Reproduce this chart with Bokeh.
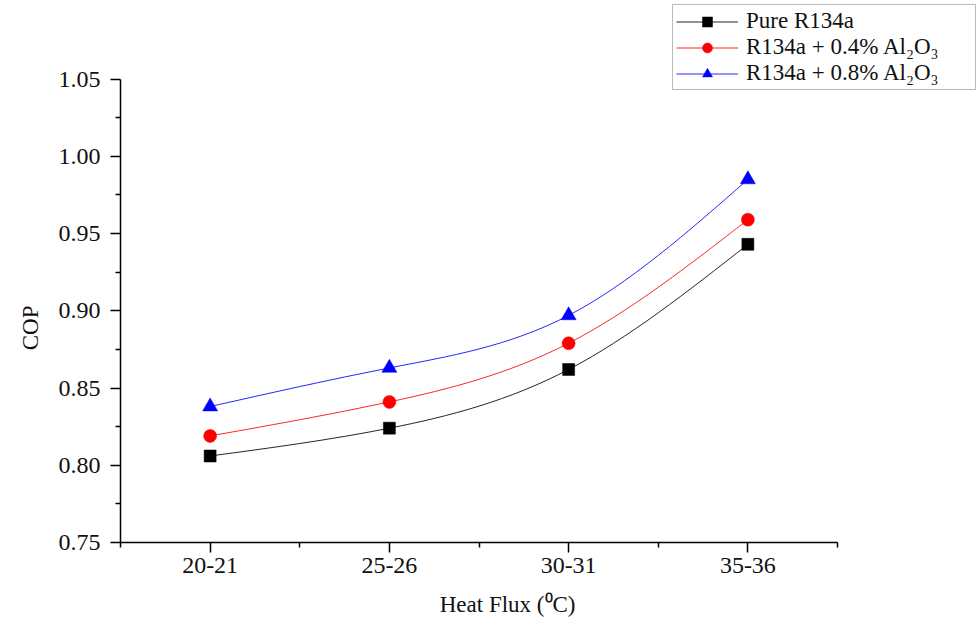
import numpy as np
from bokeh.plotting import figure
from bokeh.models import (FixedTicker, NumeralTickFormatter, Legend, LegendItem, Range1d, Title)
from bokeh.embed import file_html
from bokeh.resources import INLINE

# ---- data ----
categories = ["20-21", "25-26", "30-31", "35-36"]
x_pos = [1, 2, 3, 4]
pure_r134a = [0.806, 0.824, 0.862, 0.943]
al2o3_04 = [0.819, 0.841, 0.879, 0.959]
al2o3_08 = [0.838, 0.863, 0.897, 0.985]

y_ticks = [0.75, 0.80, 0.85, 0.90, 0.95, 1.00, 1.05]
y_minor = [0.775, 0.825, 0.875, 0.925, 0.975, 1.025]

x_title = "Heat Flux (\u2070C)"
y_title = "COP"

series = [
    ("Pure R134a", pure_r134a, "black", "square", 12),
    ("R134a + 0.4% Al\u2082O\u2083", al2o3_04, "red", "circle", 13),
    ("R134a + 0.8% Al\u2082O\u2083", al2o3_08, "blue", "triangle", 15),
]

FONT = "Liberation Serif"

# ---- layout (pixels) ----
W, H = 978, 630
AX_LEFT, AX_RIGHT, AX_TOP, AX_BOTTOM = 120, 837, 79, 545
X_LO, X_HI = 0.5, 4.5
Y_LO, Y_HI = 0.75, 1.05
# frame extends to the top/right edges so the legend can sit there unclipped
x_per_px = (X_HI - X_LO) / (AX_RIGHT - AX_LEFT)
y_per_px = (Y_HI - Y_LO) / (AX_BOTTOM - AX_TOP)
x_end = X_HI + (W - AX_RIGHT) * x_per_px
y_end = Y_HI + AX_TOP * y_per_px


def natural_spline_bezier(xs, ys):
    xs = np.asarray(xs, float)
    ys = np.asarray(ys, float)
    n = len(xs)
    h = np.diff(xs)
    A = np.zeros((n, n))
    b = np.zeros(n)
    A[0, 0] = 1.0
    A[-1, -1] = 1.0
    for i in range(1, n - 1):
        A[i, i - 1] = h[i - 1]
        A[i, i] = 2 * (h[i - 1] + h[i])
        A[i, i + 1] = h[i]
        b[i] = 6 * ((ys[i + 1] - ys[i]) / h[i] - (ys[i] - ys[i - 1]) / h[i - 1])
    M = np.linalg.solve(A, b)
    seg = dict(x0=[], y0=[], x1=[], y1=[], cx0=[], cy0=[], cx1=[], cy1=[])
    for i in range(n - 1):
        hi = h[i]
        s = (ys[i + 1] - ys[i]) / hi
        d0 = s - hi * (2 * M[i] + M[i + 1]) / 6
        d1 = s + hi * (M[i] + 2 * M[i + 1]) / 6
        seg["x0"].append(xs[i]); seg["y0"].append(ys[i])
        seg["x1"].append(xs[i + 1]); seg["y1"].append(ys[i + 1])
        seg["cx0"].append(xs[i] + hi / 3); seg["cy0"].append(ys[i] + d0 * hi / 3)
        seg["cx1"].append(xs[i + 1] - hi / 3); seg["cy1"].append(ys[i + 1] - d1 * hi / 3)
    return seg


p = figure(width=W, height=H, output_backend="svg", toolbar_location=None,
           x_range=Range1d(X_LO, x_end), y_range=Range1d(Y_LO, y_end))
p.min_border_left = AX_LEFT
p.min_border_right = 0
p.min_border_top = 0
p.min_border_bottom = H - AX_BOTTOM
p.outline_line_color = None
p.xgrid.visible = False
p.ygrid.visible = False
p.background_fill_color = "white"
p.border_fill_color = "white"

items = []
for label, vals, color, marker, size in series:
    seg = natural_spline_bezier(x_pos, vals)
    r_line = p.bezier(line_color=color, line_width=1, line_alpha=0.85, **seg)
    r_pts = p.scatter(x_pos, vals, marker=marker, size=size, fill_color=color,
                      line_color=color, line_width=0.5)
    items.append(LegendItem(label=label, renderers=[r_line, r_pts]))

# axes
p.xaxis.ticker = FixedTicker(ticks=x_pos, minor_ticks=[0.5, 1.5, 2.5, 3.5, 4.5])
p.xaxis.major_label_overrides = {x: c for x, c in zip(x_pos, categories)}
p.xaxis.bounds = (X_LO, X_HI)
p.yaxis.ticker = FixedTicker(ticks=y_ticks, minor_ticks=y_minor)
p.yaxis.formatter = NumeralTickFormatter(format="0.00")
p.yaxis.bounds = (Y_LO, Y_HI)

for ax in (p.xaxis[0], p.yaxis[0]):
    ax.axis_line_color = "black"
    ax.axis_line_width = 1.5
    ax.major_tick_line_color = "black"
    ax.major_tick_line_width = 1.5
    ax.minor_tick_line_color = "black"
    ax.minor_tick_line_width = 1.5
    ax.major_tick_in = 0
    ax.major_tick_out = 10
    ax.minor_tick_in = 0
    ax.minor_tick_out = 5
    ax.major_label_text_font = FONT
    ax.major_label_text_font_size = "24px"
    ax.major_label_text_color = "#111111"

p.yaxis.major_label_standoff = 10
p.xaxis.major_label_standoff = 5

# axis titles, positioned against the axis extents (not the extended frame)
xt = Title(text=x_title, align="right", offset=W - 575, standoff=28,
           text_font=FONT, text_font_size="23px", text_font_style="normal",
           text_color="#111111")
p.add_layout(xt, "below")
yt = Title(text=y_title, align="right", offset=305, standoff=26,
           text_font=FONT, text_font_size="23px", text_font_style="normal",
           text_color="#111111")
p.add_layout(yt, "left")

legend = Legend(items=items, location=(552, 452))
legend.label_text_font = FONT
legend.label_text_font_size = "23px"
legend.label_text_color = "#111111"
legend.label_width = 226
legend.glyph_width = 62
legend.glyph_height = 25
legend.label_height = 25
legend.label_standoff = 8
legend.padding = 3
legend.spacing = 0
legend.margin = 0
legend.border_line_color = "#777777"
legend.border_line_width = 1
legend.background_fill_color = "white"
legend.background_fill_alpha = 1.0
p.add_layout(legend, "center")

open("out.html", "w").write(file_html(p, INLINE))
